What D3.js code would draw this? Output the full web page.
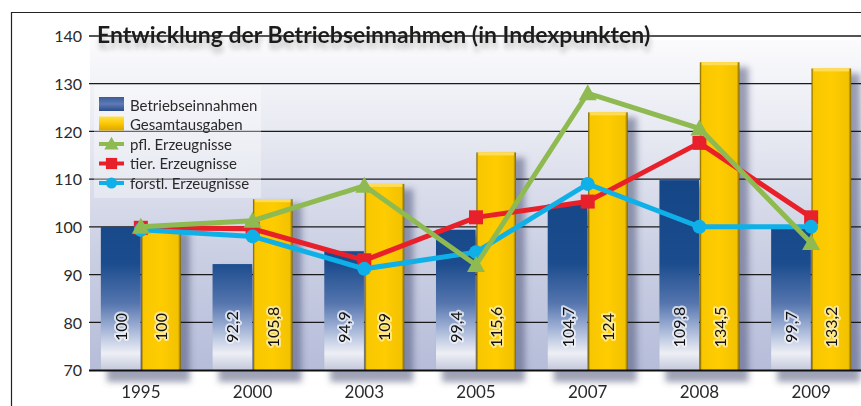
<!DOCTYPE html>
<html>
<head>
<meta charset="utf-8">
<script src="https://cdn.jsdelivr.net/npm/d3@7"></script>
<style>
  body { margin: 0; background: #fff; }
  svg { display: block; font-family: Lato, "Open Sans", sans-serif; }
</style>
</head>
<body>
<div id="chart"></div>
<script>
// data
var years = ["1995", "2000", "2003", "2005", "2007", "2008", "2009"];
var einnahmen = [100, 92.2, 94.9, 99.4, 104.7, 109.8, 99.7];
var ausgaben = [100, 105.8, 109, 115.6, 124, 134.5, 133.2];
var pfl = [100, 101.3, 108.6, 92, 128, 120.6, 96.6];
var tier = [99.8, 99.6, 93, 102, 105.3, 117.6, 102];
var forstl = [99.4, 98, 91.2, 94.7, 109, 100, 100];
var yTicks = [70, 80, 90, 100, 110, 120, 130, 140];
var labels = ["Betriebseinnahmen", "Gesamtausgaben", "pfl. Erzeugnisse", "tier. Erzeugnisse", "forstl. Erzeugnisse"];

var W = 861, H = 406;
var fmt = function (v) { return String(v).replace(".", ","); };

var svg = d3.select("#chart").append("svg")
    .attr("width", W).attr("height", H);

var defs = svg.append("defs");

function grad(id, stops, vertical, user) {
    var g = defs.append("linearGradient").attr("id", id)
        .attr("x1", 0).attr("y1", 0)
        .attr("x2", vertical ? 0 : 1).attr("y2", vertical ? 1 : 0);
    if (user) g.attr("gradientUnits", "userSpaceOnUse").attr("y1", user[0]).attr("y2", user[1]);
    stops.forEach(function (s) {
        g.append("stop").attr("offset", s[0]).attr("stop-color", s[1]);
    });
}
grad("bg", [[0, "#fbfbfd"], [0.3, "#e6e8f1"], [0.65, "#cacfe3"], [1, "#b6bdd9"]], true, [40, 370]);
grad("blueBar", [[0, "#0a3a7a"], [0.68, "#1b4c8d"], [0.8, "#5575ae"], [0.88, "#a6b6d8"], [0.95, "#eeeff5"], [1, "#c4c9dc"]], true, [36, 370]);
grad("yellowBar", [[0, "#6e5700"], [0.05, "#f9c700"], [0.5, "#fecc00"], [0.93, "#f3c200"], [1, "#7c6300"]], false);
grad("blueSw", [[0, "#3c5a9a"], [0.5, "#5d7bb5"], [1, "#2c4b8a"]], true);
grad("yellowSw", [[0, "#ffe04a"], [0.5, "#fcc800"], [1, "#d9a700"]], true);

var blur = defs.append("filter").attr("id", "blur").attr("x", "-30%").attr("y", "-30%").attr("width", "160%").attr("height", "160%");
blur.append("feGaussianBlur").attr("stdDeviation", 3);

// drop shadow for the title
var ts = defs.append("filter").attr("id", "tshadow").attr("x", "-5%").attr("y", "-40%").attr("width", "110%").attr("height", "220%");
ts.append("feGaussianBlur").attr("in", "SourceAlpha").attr("stdDeviation", 2.5).attr("result", "b");
ts.append("feOffset").attr("in", "b").attr("dx", 1).attr("dy", 6).attr("result", "o");
ts.append("feFlood").attr("flood-color", "#8a8a8a").attr("flood-opacity", 0.5);
ts.append("feComposite").attr("in2", "o").attr("operator", "in").attr("result", "s");
var tm = ts.append("feMerge");
tm.append("feMergeNode").attr("in", "s");
tm.append("feMergeNode").attr("in", "SourceGraphic");

var y = d3.scaleLinear().domain([70, 140]).range([370, 36]);
var x = d3.scaleBand().domain(years).range([85, 867]).padding(0);
var xs = d3.scaleBand().domain(["e", "a"]).range([-40, 40]).paddingInner(0.02);
function cx(d) { return x(d) + x.bandwidth() / 2; }

// frame
svg.append("line").attr("x1", 11.5).attr("x2", 11.5).attr("y1", 12).attr("y2", H)
    .attr("stroke", "#222").attr("stroke-width", 1.2);
svg.append("line").attr("x1", 11).attr("x2", W).attr("y1", 12.5).attr("y2", 12.5)
    .attr("stroke", "#222").attr("stroke-width", 1.2);

// plot background
svg.append("rect").attr("x", 90).attr("y", 40).attr("width", W - 90).attr("height", 330)
    .attr("fill", "url(#bg)");

// shadows behind bars
var groups = years.map(function (yr, i) { return { year: yr, e: einnahmen[i], a: ausgaben[i] }; });
svg.append("g").attr("filter", "url(#blur)").selectAll("path")
    .data(groups).join("path")
    .attr("fill", "#50577a").attr("opacity", 0.55)
    .attr("d", function (d) {
        var c = cx(d.year), x0 = c + xs("e") + 6, x1 = c + xs("a") + xs.bandwidth() + 9;
        var ym = c + xs("a") + 6;
        return "M" + x0 + "," + (y(d.e) + 5) + "H" + ym + "V" + (y(d.a) + 5) + "H" + x1 + "V" + 382 + "H" + x0 + "Z";
    });

// grid + y axis
var yAxis = d3.axisLeft(y).tickValues(yTicks).tickSize(0).tickPadding(7);
var ga = svg.append("g").attr("transform", "translate(89,0)").call(yAxis);
ga.select(".domain").remove();
ga.selectAll("text").attr("font-size", 16).attr("fill", "#2a2a2a")
    .attr("font-family", "Lato, sans-serif").attr("dy", "0.36em");
svg.append("g").selectAll("line").data(yTicks.slice(1)).join("line")
    .attr("x1", 89).attr("x2", W).attr("y1", function (d) { return y(d); }).attr("y2", function (d) { return y(d); })
    .attr("stroke", "#1a1a1a").attr("stroke-width", 1.3);

// bars
var bars = svg.append("g");
bars.selectAll(".be").data(groups).join("rect").attr("class", "be")
    .attr("x", function (d) { return cx(d.year) + xs("e"); })
    .attr("width", xs.bandwidth())
    .attr("y", function (d) { return y(d.e); })
    .attr("height", function (d) { return y(70) - y(d.e); })
    .attr("fill", "url(#blueBar)");
bars.selectAll(".ga").data(groups).join("rect").attr("class", "ga")
    .attr("x", function (d) { return cx(d.year) + xs("a"); })
    .attr("width", xs.bandwidth())
    .attr("y", function (d) { return y(d.a); })
    .attr("height", function (d) { return y(70) - y(d.a); })
    .attr("fill", "url(#yellowBar)");
bars.selectAll(".gt").data(groups).join("rect").attr("class", "gt")
    .attr("x", function (d) { return cx(d.year) + xs("a") + 2; })
    .attr("width", xs.bandwidth() - 4)
    .attr("y", function (d) { return y(d.a); })
    .attr("height", 3).attr("fill", "#ffdc55");

// baseline
svg.append("line").attr("x1", 89).attr("x2", W).attr("y1", y(70) + 0.5).attr("y2", y(70) + 0.5)
    .attr("stroke", "#111").attr("stroke-width", 2);

// value labels inside bars, with a light halo
var vals = [];
groups.forEach(function (d) {
    vals.push({ x: cx(d.year) + xs("e") + xs.bandwidth() / 2, v: d.e, halo: "#f4f5fa" });
    vals.push({ x: cx(d.year) + xs("a") + xs.bandwidth() / 2, v: d.a, halo: "#fff2b8" });
});
svg.append("g").selectAll("text").data(vals).join("text")
    .attr("transform", function (d) { return "translate(" + (d.x + 6) + ",327) rotate(-90)"; })
    .attr("text-anchor", "middle").attr("font-size", 16).attr("fill", "#111")
    .attr("stroke", function (d) { return d.halo; }).attr("stroke-width", 4)
    .attr("stroke-opacity", 0.75).attr("stroke-linejoin", "round")
    .style("paint-order", "stroke")
    .text(function (d) { return fmt(d.v); });

// x labels
svg.append("g").selectAll("text").data(years).join("text")
    .attr("x", cx).attr("y", 398).attr("text-anchor", "middle")
    .attr("font-size", 17).attr("fill", "#2a2a2a").text(function (d) { return d; });

// lines
var series = [
    { vals: tier, color: "#e8202a", mark: "square" },
    { vals: forstl, color: "#0fb0e8", mark: "circle" },
    { vals: pfl, color: "#8fba52", mark: "triangle" }
];
var line = d3.line().x(function (d, i) { return cx(years[i]); }).y(function (d) { return y(d); });
function marker(sel, s) {
    if (s.mark === "circle") sel.append("circle").attr("r", 7).attr("fill", s.color);
    else if (s.mark === "square") sel.append("rect").attr("x", -7).attr("y", -7).attr("width", 14).attr("height", 14).attr("fill", s.color);
    else sel.append("path").attr("d", "M0,-9L9,7H-9Z").attr("fill", s.color);
}
series.forEach(function (s) {
    svg.append("path").attr("d", line(s.vals)).attr("fill", "none")
        .attr("stroke", s.color).attr("stroke-width", 5).attr("stroke-linejoin", "miter");
    s.vals.forEach(function (v, i) {
        var g = svg.append("g").attr("transform", "translate(" + cx(years[i]) + "," + y(v) + ")");
        marker(g, s);
    });
});

// legend
var lg = svg.append("g");
lg.append("rect").attr("x", 94).attr("y", 85).attr("width", 167).attr("height", 113)
    .attr("fill", "#ffffff").attr("opacity", 0.35);
var rowY = d3.scalePoint().domain(labels).range([105, 183]);
lg.append("rect").attr("x", 99).attr("y", rowY(labels[0]) - 8).attr("width", 25).attr("height", 14).attr("fill", "url(#blueSw)");
lg.append("rect").attr("x", 99).attr("y", rowY(labels[1]) - 8).attr("width", 25).attr("height", 14).attr("fill", "url(#yellowSw)");
[series[2], series[0], series[1]].forEach(function (s, i) {
    var ry = rowY(labels[i + 2]);
    lg.append("line").attr("x1", 99).attr("x2", 124).attr("y1", ry).attr("y2", ry)
        .attr("stroke", s.color).attr("stroke-width", 4);
    var g = lg.append("g").attr("transform", "translate(111.5," + ry + ") scale(0.8)");
    marker(g, s);
});
lg.selectAll("text.lt").data(labels).join("text").attr("class", "lt")
    .attr("x", 130).attr("y", function (d) { return rowY(d) + 5.5; })
    .attr("font-size", 15).attr("fill", "#2a2a2a").text(function (d) { return d; });

// title
svg.append("text").attr("x", 97).attr("y", 43).attr("font-size", 23).attr("font-weight", "bold")
    .attr("fill", "#1e1e1e").attr("filter", "url(#tshadow)")
    .text("Entwicklung der Betriebseinnahmen (in Indexpunkten)");
</script>
</body>
</html>
